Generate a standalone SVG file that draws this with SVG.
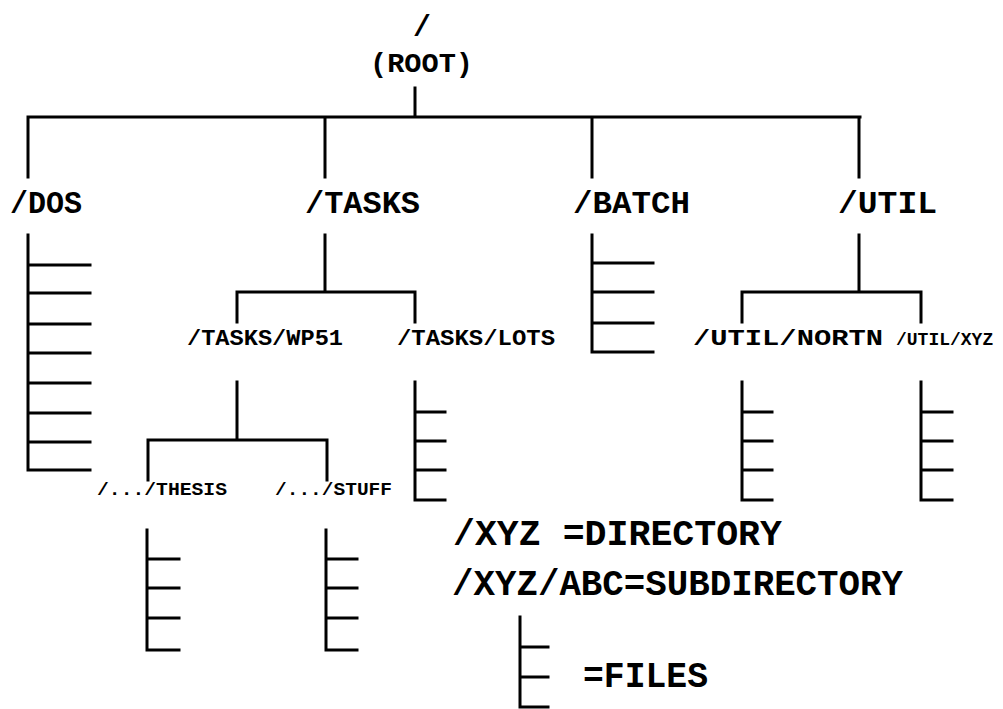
<svg xmlns="http://www.w3.org/2000/svg" width="1003" height="709" viewBox="0 0 1003 709">
<style>
.ln{stroke:#000;stroke-width:3;fill:none;stroke-linecap:square}
.t{font-family:"Liberation Mono","Courier New",monospace;font-weight:bold;fill:#000}
.big{font-size:32px}
.mid{font-size:22px}
.sm{font-size:18px}
.leg{font-size:36px}
</style>
<rect width="1003" height="709" fill="#fff"/>
<g id="connectors" class="ln">
<path d="M415 88V117M28 117H860M28 117V177M325 117V177M592 117V177M859 117V177"/>
<path d="M325 235V292M237 292H415M237 292V322M415 292V322"/>
<path d="M859 235V292M742 292H921M742 292V322M921 292V322"/>
<path d="M237 382V440M148 440H327M148 440V480M327 440V480"/>
</g>
<g id="root"><text class="t" x="413" y="36" font-size="30">/</text><text class="t" x="370" y="72" font-size="28" textLength="103" lengthAdjust="spacingAndGlyphs">(ROOT)</text></g>
<g id="dos"><text class="t big" x="10" y="213" textLength="72" lengthAdjust="spacingAndGlyphs">/DOS</text>
<path class="ln" d="M28 235V470M28 265H90M28 293H90M28 324H90M28 353H90M28 383H90M28 413H90M28 442H90M28 470H90"/></g>
<g id="tasks"><text class="t big" x="305" y="213" textLength="115" lengthAdjust="spacingAndGlyphs">/TASKS</text></g>
<g id="batch"><text class="t big" x="573" y="213" textLength="117" lengthAdjust="spacingAndGlyphs">/BATCH</text>
<path class="ln" d="M592 235V352M592 263H653M592 292H653M592 323H653M592 352H653"/></g>
<g id="util"><text class="t big" x="838" y="213" textLength="99" lengthAdjust="spacingAndGlyphs">/UTIL</text></g>
<g id="wp51"><text class="t mid" x="187" y="345" textLength="156" lengthAdjust="spacingAndGlyphs">/TASKS/WP51</text></g>
<g id="lots"><text class="t mid" x="397" y="345" textLength="158" lengthAdjust="spacingAndGlyphs">/TASKS/LOTS</text>
<path class="ln" d="M415 382V500M415 412H445M415 441H445M415 470H445M415 500H445"/></g>
<g id="nortn"><text class="t mid" x="693" y="345" textLength="190" lengthAdjust="spacingAndGlyphs">/UTIL/NORTN</text>
<path class="ln" d="M742 382V500M742 412H772M742 441H772M742 470H772M742 500H772"/></g>
<g id="utilxyz"><text class="t" x="896" y="345" font-size="18">/UTIL/XYZ</text>
<path class="ln" d="M921 382V500M921 412H952M921 441H952M921 470H952M921 500H952"/></g>
<g id="thesis"><text class="t sm" x="97" y="495" textLength="130" lengthAdjust="spacingAndGlyphs">/.../THESIS</text>
<path class="ln" d="M147 530V650M147 559H179M147 588H179M147 618H179M147 650H179"/></g>
<g id="stuff"><text class="t sm" x="275" y="495" textLength="117" lengthAdjust="spacingAndGlyphs">/.../STUFF</text>
<path class="ln" d="M326 530V650M326 559H357M326 588H357M326 618H357M326 650H357"/></g>
<g id="legend">
<text class="t leg" x="453" y="545" textLength="329" lengthAdjust="spacingAndGlyphs">/XYZ =DIRECTORY</text>
<text class="t leg" x="452" y="595" textLength="451" lengthAdjust="spacingAndGlyphs">/XYZ/ABC=SUBDIRECTORY</text>
<path class="ln" d="M520 617V707M520 647H548M520 677H548M520 707H548"/>
<text class="t leg" x="583" y="687" textLength="125" lengthAdjust="spacingAndGlyphs">=FILES</text>
</g>
</svg>
